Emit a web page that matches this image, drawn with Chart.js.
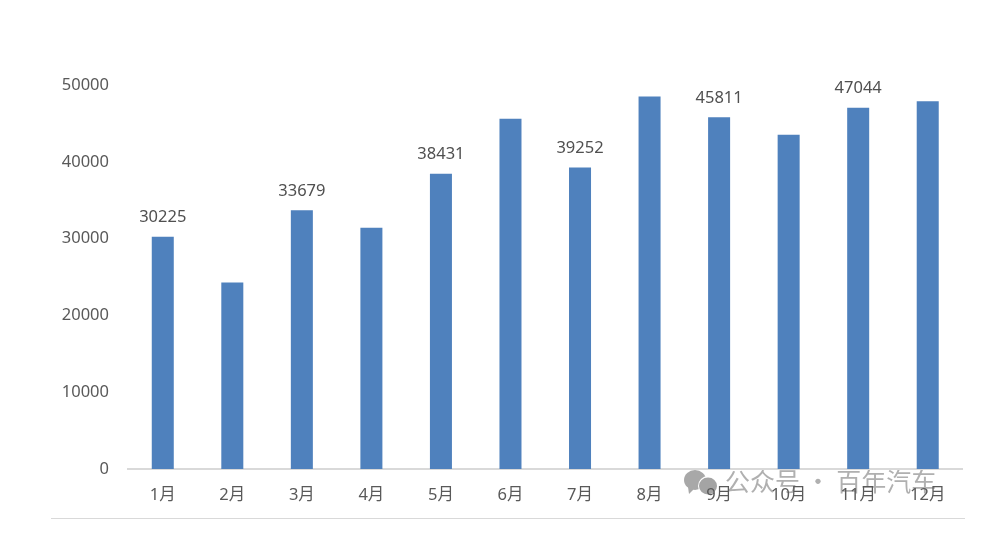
<!DOCTYPE html>
<html><head><meta charset="utf-8">
<style>html,body{margin:0;padding:0;background:#fff}#wrap{width:1002px;height:555px}</style>
<script src="https://cdn.jsdelivr.net/npm/chart.js@4"></script></head>
<body><div id="wrap"><canvas id="c" width="1002" height="555"></canvas></div>
<script>
const categories=['1月','2月','3月','4月','5月','6月','7月','8月','9月','10月','11月','12月'];
const values=[30225,24280,33679,31400,38431,45620,39252,48500,45811,43520,47044,47900];
const labelledMonths=['1月','3月','5月','7月','9月','11月'];
const yTicks=[0,10000,20000,30000,40000,50000];
const watermark='公众号 · 百年汽车';
const font='"Noto Sans","Noto Sans CJK SC",sans-serif';
const textColor='#595959';
const extras={id:'extras',
 beforeDraw(ch){
  const g=ch.ctx;g.save();
  g.fillStyle='#a8a8a8';
  g.beginPath();g.ellipse(695,480,11,10,0,0,Math.PI*2);g.fill();
  g.beginPath();g.moveTo(688,487);g.lineTo(689,494);g.lineTo(695,488);g.fill();
  g.fillStyle='#fff';g.beginPath();g.arc(708,486,10,0,Math.PI*2);g.fill();
  g.fillStyle='#a4a4a4';g.beginPath();g.ellipse(708,486,9,8.5,0,0,Math.PI*2);g.fill();
  g.font='25px "Noto Sans CJK SC",sans-serif';g.fillStyle='#b0b0b0';g.textAlign='left';g.textBaseline='alphabetic';
  g.fillText(watermark,725,491);
  g.restore();
 },
 afterDatasetsDraw(ch){
  const g=ch.ctx,m=ch.getDatasetMeta(0);
  g.save();
  g.font='16.5px '+font;g.fillStyle='#505050';g.textAlign='center';g.textBaseline='alphabetic';
  categories.forEach((c,i)=>{ if(labelledMonths.includes(c)){const b=m.data[i];g.fillText(String(values[i]),b.x,b.y-14.5);} });
  g.strokeStyle='#d9d9d9';g.lineWidth=1;g.beginPath();g.moveTo(51,518.5);g.lineTo(965,518.5);g.stroke();
  g.restore();
 }};
new Chart(document.getElementById('c'),{
 type:'bar',
 data:{labels:categories,datasets:[{data:values,backgroundColor:'#4f81bd',borderWidth:0,categoryPercentage:1,barPercentage:22/69.5}]},
 plugins:[extras],
 options:{responsive:false,animation:false,
  layout:{padding:{top:85,right:39.5,left:0,bottom:0}},
  plugins:{legend:{display:false},tooltip:{enabled:false},title:{display:false}},
  scales:{
   x:{afterFit(s){s.height=86;},
      grid:{display:false,drawTicks:false},border:{color:'#d9d9d9',width:2},
      ticks:{color:textColor,font:{size:16.5,family:font},padding:16,maxRotation:0,autoSkip:false}},
   y:{min:0,max:50000,afterFit(s){s.width=128;},
      afterBuildTicks(s){s.ticks=yTicks.map(v=>({value:v}));},
      grid:{display:false,drawTicks:false},border:{display:false},
      ticks:{color:textColor,font:{size:16.5,family:font},padding:19,callback:v=>String(v)}}
  }}
});
</script></body></html>
